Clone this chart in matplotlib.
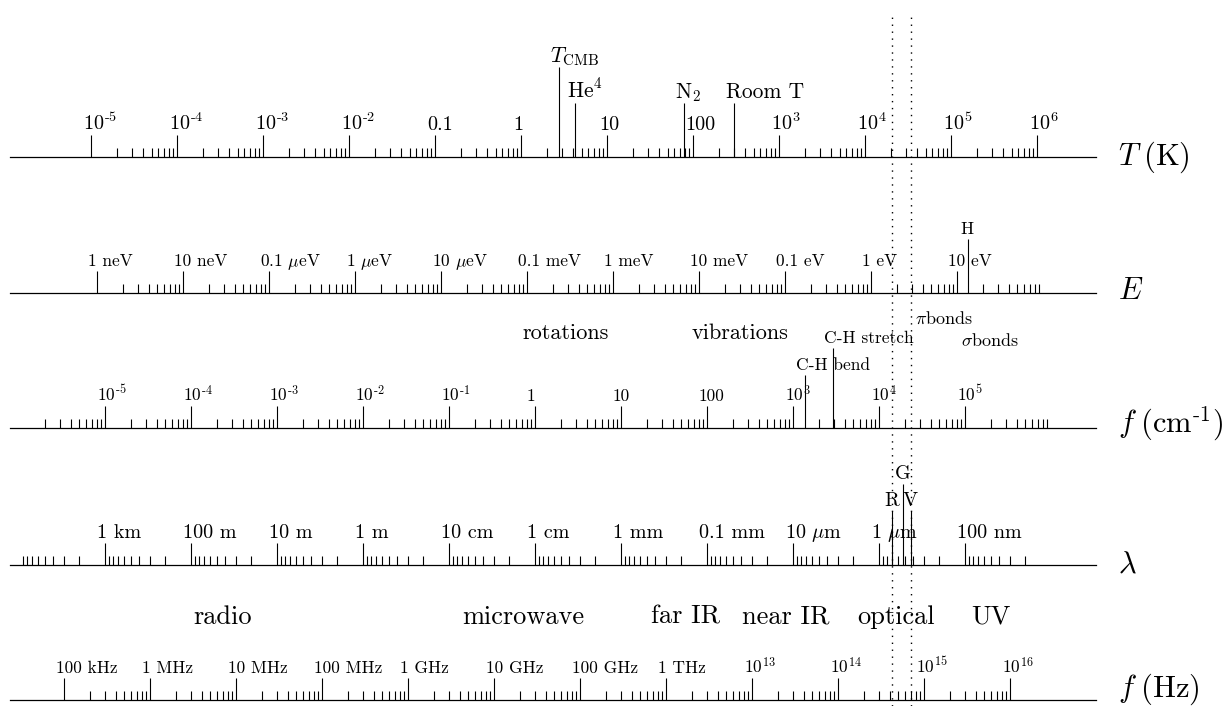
import numpy as np
import matplotlib
matplotlib.use('Agg')
import matplotlib.pyplot as plt
from matplotlib.ticker import LogLocator

plt.rcParams['font.family'] = 'serif'
plt.rcParams['font.serif'] = ['cmr10']
plt.rcParams['mathtext.fontset'] = 'cm'
plt.rcParams['axes.unicode_minus'] = False

# constants used to put every row on the same frequency scale
h = 4.1357e-15    # eV s
kB = 8.617e-5     # eV / K
c = 2.998e8       # m / s

# frequency span shared by all rows (Hz)
f_min, f_max = 2.355e4, 1e17

# temperature row (K)
T_major = [1e-5, 1e-4, 1e-3, 1e-2, 0.1, 1, 10, 100, 1e3, 1e4, 1e5, 1e6]
T_labels = [r'$10^{\text{-5}}$', r'$10^{\text{-4}}$', r'$10^{\text{-3}}$', r'$10^{\text{-2}}$',
            '0.1', '1', '10', '100', r'$10^3$', r'$10^4$', r'$10^5$', r'$10^6$']
T_minor = (2e-5, 9e5)
T_marks = [2.725, 4.2, 77, 300]
T_mark_labels = [r'$T_{\rm CMB}$', r'He$^4$', r'N$_2$', 'Room T']

# energy row (eV)
E_major = [1e-9, 1e-8, 1e-7, 1e-6, 1e-5, 1e-4, 1e-3, 1e-2, 0.1, 1, 10]
E_labels = ['1 neV', '10 neV', r'0.1 $\mu$eV', r'1 $\mu$eV', r'10 $\mu$eV', '0.1 meV',
            '1 meV', '10 meV', '0.1 eV', '1 eV', '10 eV']
E_minor = (2e-9, 90)
E_marks = [13.6]
E_mark_labels = ['H']

# wavenumber row (cm^-1)
k_major = [1e-5, 1e-4, 1e-3, 1e-2, 0.1, 1, 10, 100, 1e3, 1e4, 1e5]
k_labels = [r'$10^{\text{-5}}$', r'$10^{\text{-4}}$', r'$10^{\text{-3}}$', r'$10^{\text{-2}}$',
            r'$10^{\text{-1}}$', '1', '10', '100', r'$10^3$', r'$10^4$', r'$10^5$']
k_minor = (2e-6, 9e5)
k_marks = [1375, 2900]
k_mark_labels = ['C-H bend', 'C-H stretch']
k_regions = ['rotations', 'vibrations']
k_region_at = [2.3, 240]
k_bonds = [r'$\pi$bonds', r'$\sigma$bonds']
k_bonds_at = [2.6e4, 9.0e4]

# wavelength row (m)
lam_major = [1e3, 1e2, 10, 1, 0.1, 1e-2, 1e-3, 1e-4, 1e-5, 1e-6, 1e-7]
lam_labels = ['1 km', '100 m', '10 m', '1 m', '10 cm', '1 cm', '1 mm', '0.1 mm',
              r'10 $\mu$m', r'1 $\mu$m', '100 nm']
lam_minor = (2e-8, 9e3)
lam_marks = [700e-9, 520e-9, 420e-9]
lam_mark_labels = ['R', 'G', 'V']
optical_edges = [700e-9, 420e-9]

# frequency row (Hz)
fHz_major = [1e5, 1e6, 1e7, 1e8, 1e9, 1e10, 1e11, 1e12, 1e13, 1e14, 1e15, 1e16]
fHz_labels = ['100 kHz', '1 MHz', '10 MHz', '100 MHz', '1 GHz', '10 GHz', '100 GHz',
              '1 THz', r'$10^{13}$', r'$10^{14}$', r'$10^{15}$', r'$10^{16}$']
fHz_minor = (2e5, 9e15)
bands = ['radio', 'microwave', 'far IR', 'near IR', 'optical', 'UV']
band_at = [6.9e6, 2.2e10, 1.7e12, 2.5e13, 4.7e14, 6.0e15]

# layout (pixels)
W, H = 1226, 706
x0, x1 = 10, 1096
row_h = 120
major_len, minor_len = 22, 9

fig = plt.figure(figsize=(W / 100, H / 100), dpi=100)


def make_row(y_line, to_unit, title, title_dy=0):
    ax = fig.add_axes([x0 / W, 1 - y_line / H, (x1 - x0) / W, row_h / H])
    ax.set_xscale('log')
    ax.set_xlim(to_unit(f_min), to_unit(f_max))
    ax.set_ylim(0, row_h)
    ax.patch.set_visible(False)
    for s in ['top', 'left', 'right']:
        ax.spines[s].set_visible(False)
    ax.spines['bottom'].set_linewidth(0.9)
    ax.tick_params(which='both', bottom=False, left=False,
                   labelbottom=False, labelleft=False)
    ax.annotate(title, (1, 0), xycoords='axes fraction', xytext=(22, title_dy),
                textcoords='offset pixels', ha='left', va='center', fontsize=22)
    return ax


def scale_ticks(ax, major, labels, minor_range, fs):
    lo, hi = minor_range
    minor = LogLocator(base=10, subs=np.arange(2, 10), numticks=200).tick_values(lo, hi)
    minor = minor[(minor >= lo * 0.999) & (minor <= hi * 1.001)]
    ax.vlines(minor, 0, minor_len, color='k', lw=0.8)
    ax.vlines(major, 0, major_len, color='k', lw=0.8)
    for x, s in zip(major, labels):
        ax.annotate(s, (x, major_len), xytext=(-8.5, 5), textcoords='offset pixels',
                    ha='left', va='baseline', fontsize=fs)


def marks(ax, xs, labels, heights, fs):
    ax.vlines(xs, 0, heights, color='k', lw=0.8)
    for x, s, hgt in zip(xs, labels, heights):
        ax.annotate(s, (x, hgt), xytext=(-8.5, 5), textcoords='offset pixels',
                    ha='left', va='baseline', fontsize=fs)


# T row
axT = make_row(157, lambda f: h * f / kB, r'$T\;(\mathrm{K})$')
scale_ticks(axT, T_major, T_labels, T_minor, 14.5)
marks(axT, T_marks, T_mark_labels, [90, 54, 54, 54], 15.5)

# E row
axE = make_row(293, lambda f: h * f, r'$E$', 2)
scale_ticks(axE, E_major, E_labels, E_minor, 12.5)
marks(axE, E_marks, E_mark_labels, [54], 12.5)

# wavenumber row
axk = make_row(428, lambda f: f / (c * 100), r'$f\;(\mathrm{cm}^{\text{-1}})$', 4)
scale_ticks(axk, k_major, k_labels, k_minor, 12.5)
marks(axk, k_marks, k_mark_labels, [53, 80], 12.5)
for x, s in zip(k_region_at, k_regions):
    axk.text(x, 89, s, ha='center', va='baseline', fontsize=16)
for x, s, y in zip(k_bonds_at, k_bonds, [104, 82]):
    axk.text(x, y, s, ha='left', va='baseline', fontsize=13)

# wavelength row
axl = make_row(565, lambda f: c / f, r'$\lambda$')
scale_ticks(axl, lam_major, lam_labels, lam_minor, 14.5)
marks(axl, lam_marks, lam_mark_labels, [54, 81, 54], 14.5)

# frequency row
axf = make_row(700, lambda f: f, r'$f\;(\mathrm{Hz})$', 11)
scale_ticks(axf, fHz_major, fHz_labels, fHz_minor, 12.5)
for x, s in zip(band_at, bands):
    axf.text(x, 76, s, ha='center', va='baseline', fontsize=19)

# dotted lines marking the optical window
axd = fig.add_axes([x0 / W, 0, (x1 - x0) / W, (H - 12) / H])
axd.set_xscale('log')
axd.set_xlim(c / f_min, c / f_max)
axd.axis('off')
for lam in optical_edges:
    axd.axvline(lam, color='k', lw=1.0, ls=(0, (1, 4)))

fig.savefig('out.png', dpi=100)
